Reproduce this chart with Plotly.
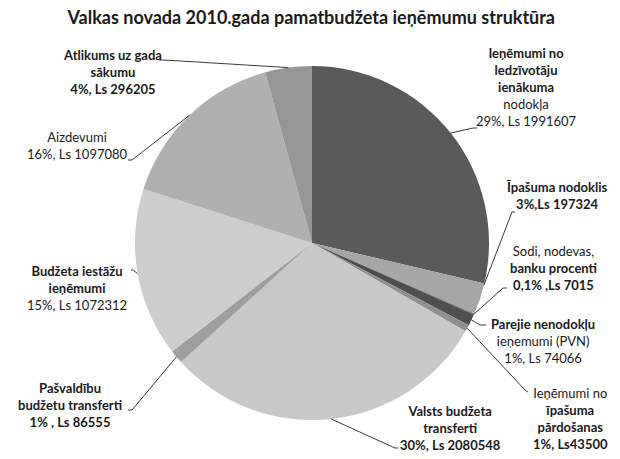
import math
import plotly.graph_objects as go

W, H = 620, 459

# ---- data ----
categories = [
    "Ieņēmumi no ledzīvotāju ienākuma nodokļa",
    "Īpašuma nodoklis",
    "Sodi, nodevas, banku procenti",
    "Parejie nenodokļu ieņemumi (PVN)",
    "Ieņēmumi no īpašuma pārdošanas",
    "Valsts budžeta transferti",
    "Pašvaldību budžetu transferti",
    "Budžeta iestāžu ieņēmumi",
    "Aizdevumi",
    "Atlikums uz gada sākumu",
]
values = [1991607, 197324, 7015, 74066, 43500, 2080548, 86555, 1072312, 1097080, 296205]
pct_labels = ["29%", "3%", "0,1%", "1%", "1%", "30%", "1%", "15%", "16%", "4%"]

label_text = [
    "<b>Ieņēmumi no<br>ledzīvotāju<br>ienākuma</b><br>nodokļa<br>29%, Ls 1991607",
    "<b>Īpašuma nodoklis<br>3%,Ls 197324</b>",
    "Sodi, nodevas,<br><b>banku procenti<br>0,1% ,Ls 7015</b>",
    "<b>Parejie nenodokļu</b><br>ieņemumi (PVN)<br>1%, Ls 74066",
    "Ieņēmumi no<br><b>īpašuma<br>pārdošanas<br>1%, Ls43500</b>",
    "<b>Valsts budžeta<br>transferti<br>30%, Ls 2080548</b>",
    "<b>Pašvaldību<br>budžetu transferti<br>1% , Ls 86555</b>",
    "<b>Budžeta iestāžu<br>ieņēmumi</b><br>15%, Ls 1072312",
    "Aizdevumi<br>16%, Ls 1097080",
    "<b>Atlikums uz gada<br>sākumu<br>4%, Ls 296205</b>",
]
colors = ["#5a5a5a", "#a6a6a6", "#7a7a7a", "#4f4f4f", "#909090",
          "#c8c8c8", "#9e9e9e", "#cdcdcd", "#b0b0b0", "#969696"]

# ---- layout (pixel positions of labels / leader elbows) ----
label_pos = [(526, 87), (557, 196), (553, 268), (543, 341), (570, 418),
             (450, 428), (70, 405), (77, 288), (77, 145), (112, 72)]
elbow = [(473, 128), (512, 212), (503, 288), (480, 325), (525, 390),
         (395, 448), (132, 410), (133, 270), (132, 160), (164, 60)]
elbow_end = [(477, 128), (515, 212), (507, 288), (486, 325), (528, 392),
             (398, 448), (128, 410), (131, 270), (128, 160), (159, 60)]
anchor_frac = [0.5, 0.05, 0.5, 0.5, 0.5, 0.5, 0.5, 0.5, 0.5, 0.5]

# pie geometry in pixels
cx, cy, R = 312, 243, 177
dom_x = [(cx - R) / W, (cx + R) / W]
dom_y = [1 - (cy + R) / H, 1 - (cy - R) / H]

def px(x, y):
    return x / W, 1 - y / H

fig = go.Figure(go.Pie(
    labels=categories, values=values, sort=False, direction="clockwise",
    rotation=0, textinfo="none", hoverinfo="label+value+percent",
    marker=dict(colors=colors, line=dict(width=0)),
    domain=dict(x=dom_x, y=dom_y), showlegend=False,
))

total = sum(values)
cum = 0
shapes = []
annotations = []
for i, v in enumerate(values):
    frac = (cum + v * anchor_frac[i]) / total
    cum += v
    ang = frac * 2 * math.pi
    ax_, ay_ = cx + R * math.sin(ang), cy - R * math.cos(ang)
    pts = [(ax_, ay_), elbow[i], elbow_end[i]]
    for (x0, y0), (x1, y1) in zip(pts[:-1], pts[1:]):
        X0, Y0 = px(x0, y0)
        X1, Y1 = px(x1, y1)
        shapes.append(dict(type="line", xref="paper", yref="paper",
                           x0=X0, y0=Y0, x1=X1, y1=Y1,
                           line=dict(color="#3a3a3a", width=1)))
    lx, ly = px(*label_pos[i])
    annotations.append(dict(x=lx, y=ly, xref="paper", yref="paper",
                            text=label_text[i], showarrow=False,
                            xanchor="center", yanchor="middle", align="center",
                            font=dict(family="Lato", size=13, color="#1a1a1a")))

fig.update_layout(
    width=W, height=H,
    margin=dict(l=0, r=0, t=0, b=0),
    paper_bgcolor="white", plot_bgcolor="white",
    title=dict(text="<b>Valkas novada 2010.gada pamatbudžeta ieņēmumu struktūra</b>",
               x=0.502, xanchor="center", y=1 - 18 / H, yanchor="middle",
               font=dict(family="Lato", size=18, color="#1a1a1a")),
    shapes=shapes, annotations=annotations,
)

fig.write_html("out.html")
